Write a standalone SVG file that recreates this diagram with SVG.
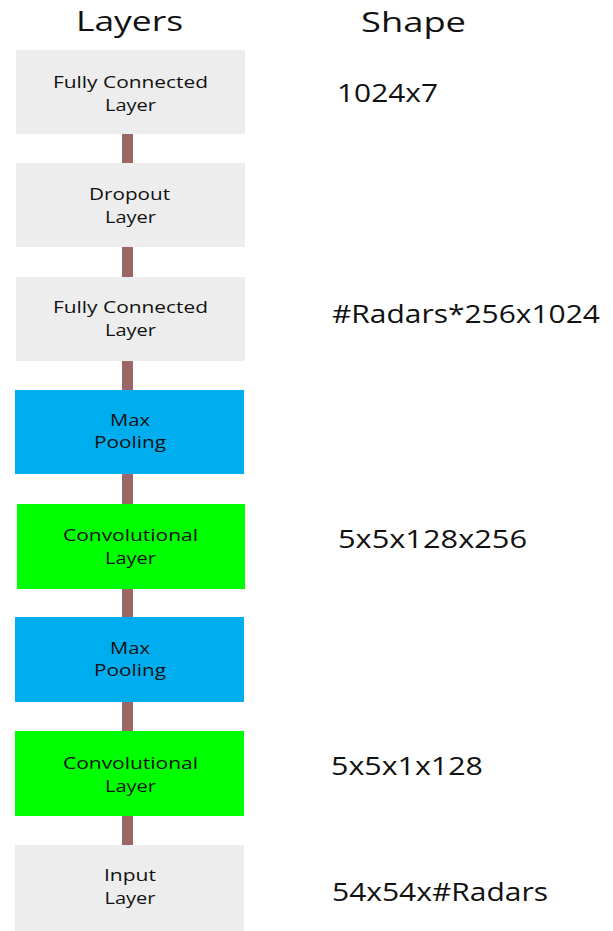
<svg xmlns="http://www.w3.org/2000/svg" width="613" height="931" viewBox="0 0 613 931">
<style>
.gray{fill:#ededed}
.blue{fill:#00aeef}
.green{fill:#00ff00}
text{font-family:"Open Sans","Noto Sans",sans-serif;fill:#111}
.lbl{font-size:17px;text-anchor:middle}
.hdr{font-size:28px;text-anchor:middle}
.shape{font-size:25px}
.conn{fill:#9b6766}
</style>
<rect width="613" height="931" fill="#fff"/>
<text class="hdr" x="129.5" y="31" textLength="107" lengthAdjust="spacingAndGlyphs">Layers</text>
<text class="hdr" x="413.5" y="32" textLength="105" lengthAdjust="spacingAndGlyphs">Shape</text>
<g id="connectors">
<rect class="conn" x="122" y="134" width="11" height="29"/>
<rect class="conn" x="122" y="247" width="11" height="30"/>
<rect class="conn" x="122" y="361" width="11" height="29"/>
<rect class="conn" x="122" y="474" width="11" height="30"/>
<rect class="conn" x="122" y="589" width="11" height="28"/>
<rect class="conn" x="122" y="702" width="11" height="29"/>
<rect class="conn" x="122" y="816" width="11" height="29"/>
</g>
<g id="fc2">
<rect class="gray" x="16" y="50" width="229" height="84"/>
<text class="lbl" x="130.5" y="88" textLength="155" lengthAdjust="spacingAndGlyphs">Fully Connected</text>
<text class="lbl" x="130.5" y="111" textLength="51" lengthAdjust="spacingAndGlyphs">Layer</text>
</g>
<g id="dropout">
<rect class="gray" x="16" y="163" width="229" height="84"/>
<text class="lbl" x="129.5" y="200" textLength="81" lengthAdjust="spacingAndGlyphs">Dropout</text>
<text class="lbl" x="130.5" y="223" textLength="51" lengthAdjust="spacingAndGlyphs">Layer</text>
</g>
<g id="fc1">
<rect class="gray" x="16" y="277" width="229" height="84"/>
<text class="lbl" x="130.5" y="313" textLength="155" lengthAdjust="spacingAndGlyphs">Fully Connected</text>
<text class="lbl" x="130.5" y="336" textLength="51" lengthAdjust="spacingAndGlyphs">Layer</text>
</g>
<g id="pool2">
<rect class="blue" x="15" y="390" width="229" height="84"/>
<text class="lbl" x="130" y="426" textLength="40" lengthAdjust="spacingAndGlyphs">Max</text>
<text class="lbl" x="130" y="448" textLength="72" lengthAdjust="spacingAndGlyphs">Pooling</text>
</g>
<g id="conv2">
<rect class="green" x="17" y="504" width="228" height="85"/>
<text class="lbl" x="130.5" y="541" textLength="135" lengthAdjust="spacingAndGlyphs">Convolutional</text>
<text class="lbl" x="130.5" y="564" textLength="51" lengthAdjust="spacingAndGlyphs">Layer</text>
</g>
<g id="pool1">
<rect class="blue" x="15" y="617" width="229" height="85"/>
<text class="lbl" x="130" y="654" textLength="40" lengthAdjust="spacingAndGlyphs">Max</text>
<text class="lbl" x="130" y="676" textLength="72" lengthAdjust="spacingAndGlyphs">Pooling</text>
</g>
<g id="conv1">
<rect class="green" x="15" y="731" width="229" height="85"/>
<text class="lbl" x="130.5" y="769" textLength="135" lengthAdjust="spacingAndGlyphs">Convolutional</text>
<text class="lbl" x="130.5" y="792" textLength="51" lengthAdjust="spacingAndGlyphs">Layer</text>
</g>
<g id="input">
<rect class="gray" x="15" y="845" width="229" height="86"/>
<text class="lbl" x="130" y="881" textLength="52" lengthAdjust="spacingAndGlyphs">Input</text>
<text class="lbl" x="130" y="904" textLength="51" lengthAdjust="spacingAndGlyphs">Layer</text>
</g>
<text class="shape" x="337" y="102" textLength="101" lengthAdjust="spacingAndGlyphs">1024x7</text>
<text class="shape" x="332" y="323" textLength="268" lengthAdjust="spacingAndGlyphs">#Radars*256x1024</text>
<text class="shape" x="338" y="548" textLength="189" lengthAdjust="spacingAndGlyphs">5x5x128x256</text>
<text class="shape" x="331" y="775" textLength="152" lengthAdjust="spacingAndGlyphs">5x5x1x128</text>
<text class="shape" x="332" y="901" textLength="216" lengthAdjust="spacingAndGlyphs">54x54x#Radars</text>
</svg>
